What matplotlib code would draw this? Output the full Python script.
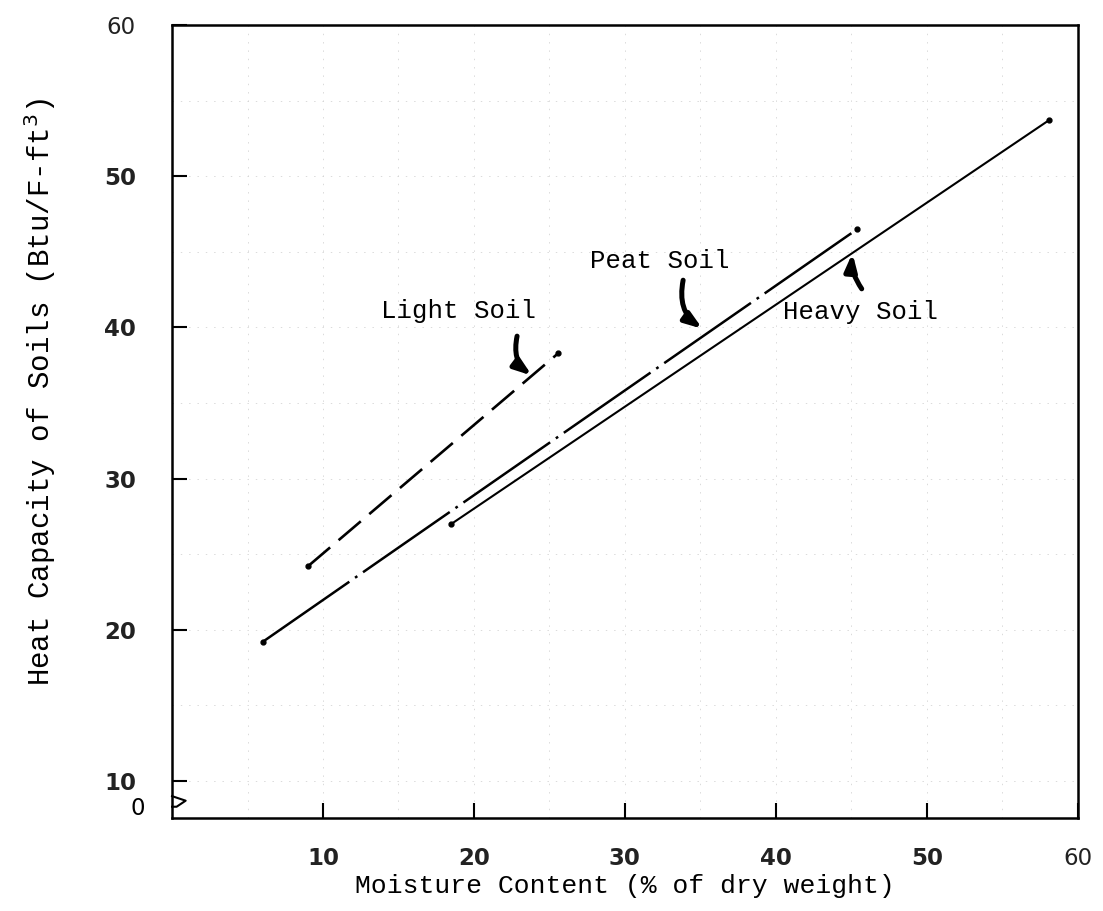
import matplotlib.pyplot as plt
import numpy as np

# moisture content (% of dry weight) vs heat capacity (Btu/F-ft^3), end points of each line
light_x = [9.0, 25.6]
light_y = [24.2, 38.3]
peat_x = [6.0, 45.4]
peat_y = [19.2, 46.5]
heavy_x = [18.5, 58.1]
heavy_y = [27.0, 53.7]

xticks = [10, 20, 30, 40, 50, 60]
yticks = [10, 20, 30, 40, 50, 60]

# label text, text position, arrow tail, arrow head
labels = ["Light Soil", "Peat Soil", "Heavy Soil"]
label_pos = [(19.0, 41.1), (32.3, 44.4), (45.6, 41.0)]
arrow_tail = [(22.9, 39.6), (33.9, 43.3), (45.8, 42.4)]
arrow_head = [(24.0, 36.7), (35.3, 39.8), (45.1, 45.1)]
arrow_rad = [0.35, 0.35, -0.2]

plt.rcParams['lines.scale_dashes'] = False
mono = 'Liberation Mono'

fig = plt.figure(figsize=(11.03, 9.11), dpi=100)
ax = fig.add_axes([0.156, 0.102, 0.821, 0.8706])

ax.set_xlim(0, 60)
ax.set_ylim(7.55, 60)

# faint graph paper
for g in np.arange(5, 60, 5):
    ax.axvline(g, color='#d4d4d4', lw=0.6, ls=(0, (1, 5)), zorder=0)
for g in np.arange(10, 60, 5):
    ax.axhline(g, color='#d4d4d4', lw=0.6, ls=(0, (1, 5)), zorder=0)

ax.plot(light_x, light_y, color='black', lw=1.9, dashes=(21, 8),
        marker='o', markersize=3.5, markevery=[0, 1])
ax.plot(peat_x, peat_y, color='black', lw=1.8, dashes=(76, 5, 2, 5),
        marker='o', markersize=3.5, markevery=[0, 1])
ax.plot(heavy_x, heavy_y, color='black', lw=1.5,
        marker='o', markersize=3.5, markevery=[0, 1])

for txt, pos, tail, head, rad in zip(labels, label_pos, arrow_tail, arrow_head, arrow_rad):
    ax.text(pos[0], pos[1], txt, fontsize=18.5, family=mono, ha='center', va='center')
    ax.annotate('', xy=head, xytext=tail,
                arrowprops=dict(arrowstyle='-|>,head_length=1.0,head_width=0.35',
                                color='black', lw=3.6,
                                connectionstyle='arc3,rad=%s' % rad))

ax.set_xticks(xticks)
ax.set_yticks(yticks)
ax.tick_params(direction='in', length=11, width=1.5, labelsize=16.5, colors='black')
ax.tick_params(axis='x', pad=21)
ax.tick_params(axis='y', pad=26)
for lab in ax.get_xticklabels() + ax.get_yticklabels():
    lab.set_fontweight('bold')
    lab.set_color('#222222')
ax.get_xticklabels()[-1].set_fontweight('normal')
ax.get_yticklabels()[-1].set_fontweight('normal')

# broken y axis: "0" label and zigzag
ax.text(-1.8, 8.2, '0', fontsize=16.5, ha='right', va='center',
        transform=ax.transData, clip_on=False)
break_x = [0, 0.9, 0.3, 0]
break_y = [9.0, 8.7, 8.3, 8.3]
ax.plot(break_x, break_y, color='black', lw=1.5, clip_on=False)

for s in ax.spines.values():
    s.set_linewidth(1.8)

ax.set_xlabel('Moisture Content (% of dry weight)', fontsize=19, family=mono, labelpad=3)
fig.text(0.036, 1 - 392 / 911, 'Heat Capacity of Soils (Btu/F-ft$^3$)', fontsize=21,
         family=mono, rotation=90, ha='center', va='center')

fig.savefig('out.png', dpi=100, facecolor='white')
